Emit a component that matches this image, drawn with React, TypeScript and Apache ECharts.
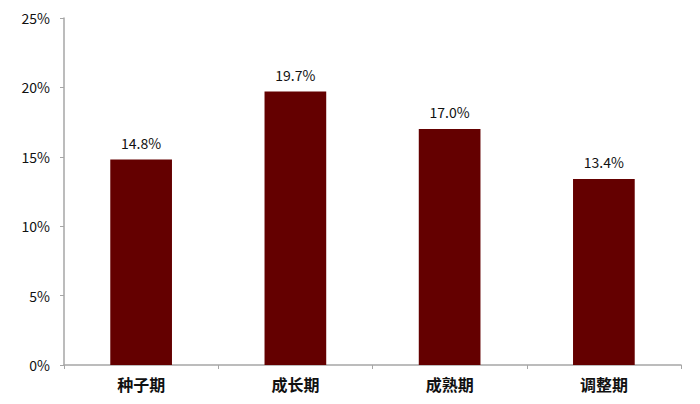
import React, { useEffect, useRef } from 'react';
import * as echarts from 'echarts';

const categories = ['种子期', '成长期', '成熟期', '调整期'];
const values = [14.8, 19.7, 17.0, 13.4];
const yTicks = [0, 5, 10, 15, 20, 25];

const App: React.FC = () => {
  const chartRef = useRef<HTMLDivElement>(null);

  useEffect(() => {
    if (!chartRef.current) return;
    const chart = echarts.init(chartRef.current, undefined, { renderer: 'svg' });
    const font = '"Noto Sans CJK SC", "Open Sans", sans-serif';
    chart.setOption({
      animation: false,
      grid: { left: 64, right: 19, top: 18, bottom: 39 },
      xAxis: {
        type: 'category',
        data: categories,
        axisLine: { lineStyle: { color: '#a6a6a6', width: 1.5 } },
        axisTick: { show: true, length: 4, alignWithLabel: false, lineStyle: { color: '#a6a6a6' } },
        axisLabel: { color: '#111', fontSize: 16, fontWeight: 'bold', fontFamily: font, margin: 11 },
      },
      yAxis: {
        type: 'value',
        min: yTicks[0],
        max: yTicks[yTicks.length - 1],
        interval: 5,
        axisLine: { show: true, lineStyle: { color: '#a6a6a6', width: 1.5 } },
        axisTick: { show: true, length: 4, lineStyle: { color: '#a6a6a6' } },
        splitLine: { show: false },
        axisLabel: { color: '#111', fontSize: 14, fontFamily: font, margin: 14, formatter: '{value}%' },
      },
      series: [
        {
          type: 'bar',
          data: values,
          barWidth: '40%',
          itemStyle: { color: '#640000' },
          label: {
            show: true,
            position: 'top',
            distance: 10,
            color: '#111',
            fontSize: 14,
            fontFamily: font,
            formatter: (p: any) => `${Number(p.value).toFixed(1)}%`,
          },
        },
      ],
    });
    return () => chart.dispose();
  }, []);

  return <div ref={chartRef} style={{ width: 700, height: 404, margin: -8 }} />;
};

export default App;
